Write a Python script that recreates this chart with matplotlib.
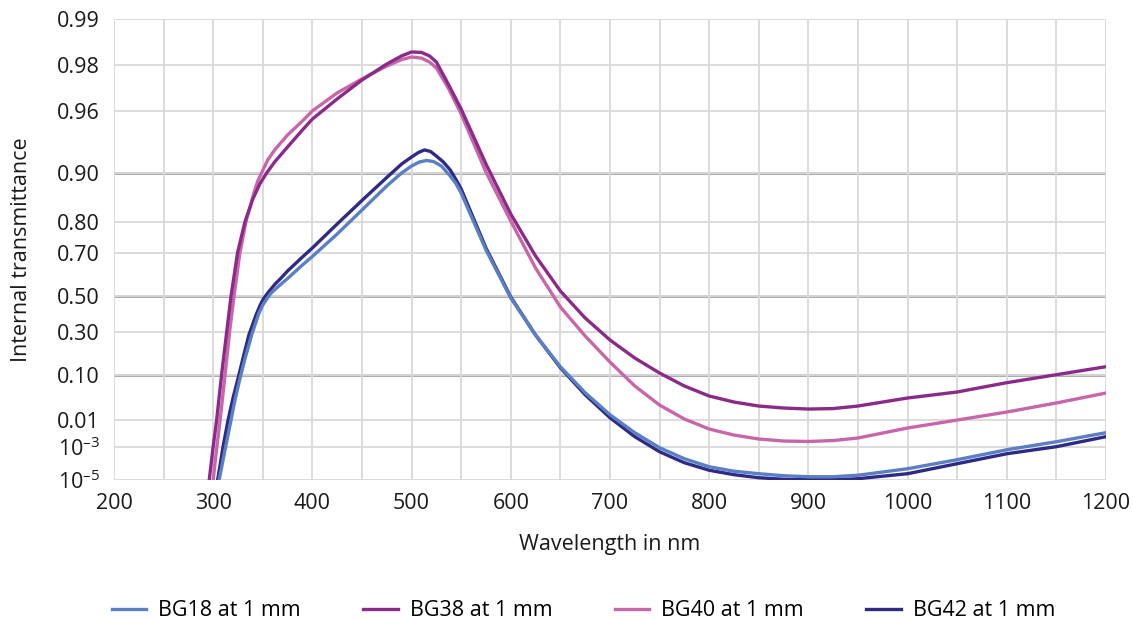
import numpy as np
import matplotlib
matplotlib.use("Agg")
import matplotlib.pyplot as plt
from matplotlib.ticker import NullLocator

plt.rcParams['font.family'] = ['Open Sans', 'DejaVu Sans']
plt.rcParams['mathtext.fontset'] = 'custom'
plt.rcParams['mathtext.rm'] = 'Open Sans'
plt.rcParams['mathtext.default'] = 'regular'

# Internal transmittance (1 mm thickness) of the BG filter glasses
bg18_wl = [302, 306, 312.6, 318, 322, 327, 332, 338.8, 346, 350, 354, 358, 365, 375,
           390, 400, 425, 450, 475, 490, 500, 508, 515, 522, 530, 539, 545, 550,
           575, 600, 625, 650, 675, 700, 725, 750, 775, 800, 825, 850, 875, 900,
           925, 950, 1000, 1050, 1100, 1150, 1200]
bg18_t = [1e-7, 1e-5, 1e-3, 0.01, 0.0337, 0.0871, 0.1633, 0.2848, 0.4049, 0.4520,
          0.4846, 0.5137, 0.5470, 0.5888, 0.6499, 0.6850, 0.7646, 0.8303, 0.8791,
          0.8998, 0.9094, 0.9146, 0.9164, 0.9152, 0.9094, 0.8953, 0.8825, 0.8663,
          0.7100, 0.4898, 0.2848, 0.1303, 0.0482, 0.01434, 3.75e-3, 8.9e-4,
          2.46e-4, 8.3e-5, 4.27e-5, 2.89e-5, 2.08e-5, 1.76e-5, 1.76e-5, 2.25e-5,
          6.2e-5, 2.16e-4, 7.1e-4, 1.64e-3, 3.75e-3]

bg38_wl = [293.5, 296, 300, 303.5, 308.5, 313.6, 318, 324.6, 332, 340, 347, 354, 362,
           375, 390, 400, 425, 450, 475, 490, 500, 510, 518, 525, 537, 550, 575,
           600, 625, 650, 675, 700, 725, 750, 775, 800, 825, 850, 875, 900, 925,
           950, 1000, 1050, 1100, 1150, 1200]
bg38_t = [1e-7, 1e-5, 1e-3, 0.01, 0.1, 0.3, 0.5, 0.7, 0.8, 0.8545, 0.8825, 0.9,
          0.9146, 0.9315, 0.9467, 0.9547, 0.9665, 0.9748, 0.9802, 0.9825, 0.9835,
          0.9834, 0.9825, 0.9808, 0.9732, 0.9610, 0.9120, 0.8206, 0.6870, 0.5268,
          0.3797, 0.2580, 0.1679, 0.1060, 0.0648, 0.0412, 0.0303, 0.0243, 0.0217,
          0.0204, 0.0210, 0.0243, 0.0373, 0.0498, 0.0741, 0.0999, 0.1303]

bg40_wl = [297.5, 300, 303.7, 307, 312, 316.5, 321, 327, 333, 341, 345, 349, 355,
           362, 375, 390, 400, 425, 450, 475, 490, 500, 510, 518, 525, 537, 550,
           575, 600, 625, 650, 675, 700, 725, 750, 775, 800, 825, 850, 875, 900,
           925, 950, 1000, 1050, 1100, 1150, 1200]
bg40_t = [1e-7, 1e-5, 1e-3, 0.01, 0.1, 0.3, 0.5, 0.7, 0.8, 0.8663, 0.8875, 0.9005,
          0.9170, 0.9284, 0.9426, 0.9534, 0.9599, 0.9694, 0.9752, 0.9796, 0.9815,
          0.9822, 0.9819, 0.9808, 0.9790, 0.9716, 0.9580, 0.9011, 0.8025, 0.6369,
          0.4411, 0.2794, 0.1500, 0.0648, 0.0257, 0.01076, 5.08e-3, 3.06e-3,
          2.13e-3, 1.76e-3, 1.68e-3, 1.84e-3, 2.34e-3, 5.52e-3, 0.0100, 0.0170,
          0.0288, 0.0475]

bg42_wl = [301, 304.5, 310, 315, 320, 325.3, 330, 336, 343, 347, 350.5, 355, 362,
           368, 375, 390, 400, 425, 450, 475, 490, 500, 507, 513, 519, 525, 532,
           539, 545, 550, 575, 600, 625, 650, 675, 700, 725, 750, 775, 800, 825,
           850, 875, 900, 925, 950, 1000, 1050, 1100, 1150, 1200]
bg42_t = [1e-7, 1e-5, 1e-3, 0.01, 0.0373, 0.0904, 0.1656, 0.2848, 0.3937, 0.4466,
          0.4846, 0.5162, 0.5596, 0.5888, 0.6236, 0.6829, 0.7173, 0.7943, 0.8515,
          0.8930, 0.9120, 0.9206, 0.9257, 0.9284, 0.9268, 0.9217, 0.9146, 0.9040,
          0.8891, 0.8738, 0.7173, 0.4952, 0.2848, 0.1263, 0.0438, 0.01176,
          2.64e-3, 5.7e-4, 1.45e-4, 4.96e-5, 2.47e-5, 1.49e-5, 1.15e-5, 1.05e-5,
          1.05e-5, 1.26e-5, 2.89e-5, 1.27e-4, 4.5e-4, 9.9e-4, 2.64e-3]

series_labels = ["BG18 at 1 mm", "BG38 at 1 mm", "BG40 at 1 mm", "BG42 at 1 mm"]
series_colors = ["#5b7fc4", "#8c2a8a", "#c866a9", "#2e2a86"]

y_ticks = [1e-5, 1e-3, 0.01, 0.10, 0.30, 0.50, 0.70, 0.80, 0.90, 0.96, 0.98, 0.99]
y_tick_labels = [r"$10^{–5}$", r"$10^{–3}$", "0.01", "0.10", "0.30", "0.50",
                 "0.70", "0.80", "0.90", "0.96", "0.98", "0.99"]
emphasis_levels = [0.10, 0.50, 0.90]
x_ticks = list(range(200, 1201, 100))
x_minor_ticks = list(range(250, 1200, 100))

FS = 15.5


def diabatic(t):
    t = np.clip(np.asarray(t, dtype=float), 1e-300, 1 - 1e-15)
    return -np.log10(-np.log(t))


def diabatic_inv(y):
    return np.exp(-np.power(10.0, -np.asarray(y, dtype=float)))


fig = plt.figure(figsize=(11.33, 6.21), dpi=100)
ax = fig.add_axes([0.1006, 0.227, 0.8755, 0.7424])
ax.set_yscale('function', functions=(diabatic, diabatic_inv))
ax.set_xlim(200, 1200)
ax.set_ylim(1e-5, 0.99)

ax.set_yticks(y_ticks)
ax.set_yticklabels(y_tick_labels)
ax.set_xticks(x_ticks)
ax.set_xticks(x_minor_ticks, minor=True)
ax.yaxis.set_minor_locator(NullLocator())
ax.tick_params(axis='both', which='both', length=0, labelsize=FS,
               colors='#1a1a1a')
ax.tick_params(axis='y', pad=10)
ax.tick_params(axis='x', pad=9)

ax.grid(True, which='both', color='#d9d9d9', linewidth=1.3, zorder=0)
for lvl in emphasis_levels:
    ax.axhline(lvl, color='#a3a3a3', linewidth=2.0, zorder=1)
for s in ax.spines.values():
    s.set_visible(False)

draw_order = [(bg42_wl, bg42_t, 3), (bg18_wl, bg18_t, 0),
              (bg40_wl, bg40_t, 2), (bg38_wl, bg38_t, 1)]
handles = {}
for wl, t, idx in draw_order:
    ln, = ax.plot(wl, t, color=series_colors[idx], linewidth=2.4,
                  label=series_labels[idx], zorder=3, solid_joinstyle='round')
    handles[idx] = ln

ax.set_xlabel("Wavelength in nm", fontsize=FS, color='#1a1a1a', labelpad=15)
ax.set_ylabel("Internal transmittance", fontsize=FS, color='#1a1a1a')
ax.yaxis.set_label_coords(-0.083, 0.5)

fig.legend([handles[i] for i in range(4)], series_labels, loc='lower center',
           bbox_to_anchor=(0.515, -0.032), ncol=4, frameon=False, fontsize=FS,
           handlelength=1.6, handletextpad=0.56, columnspacing=2.9)

fig.savefig("out.png", dpi=100)
